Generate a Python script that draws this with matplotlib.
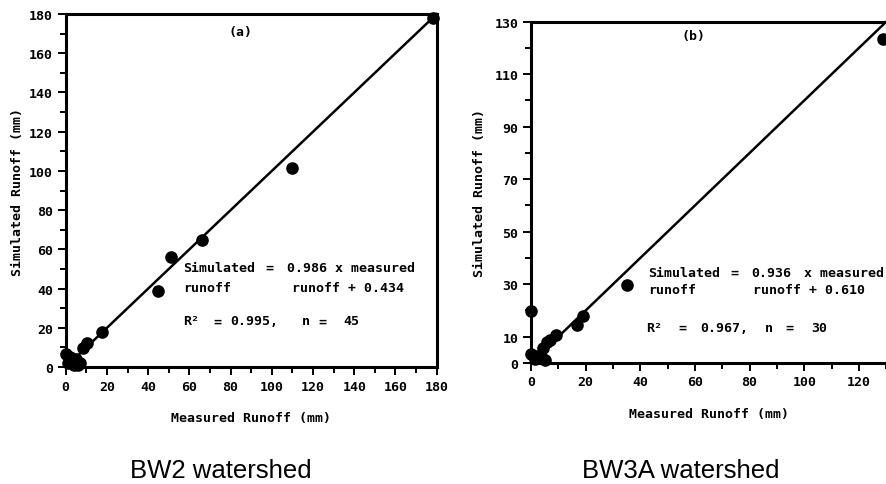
import matplotlib
matplotlib.use("Agg")
import matplotlib.pyplot as plt
import numpy as np

# ---- data ----
a_measured = [178, 110, 66, 51, 45, 17.5, 10.5, 8.5, 0, 3, 5, 7, 4, 6, 2, 1]
a_simulated = [178, 101.5, 65, 56, 39, 18, 12, 9.5, 6.5, 3, 4, 2, 1, 1, 5, 2]
b_measured = [128.8, 35, 19, 16.7, 9, 7, 6, 4.5, 0, 0, 1.5, 5, 4, 2]
b_simulated = [123.5, 29.8, 17.8, 14.5, 10.7, 8.9, 8, 5.7, 19.7, 3.4, 1.5, 1, 2, 2.5]
a_line = [0, 180]
b_line = [0, 130]
a_xticks = list(range(0, 181, 20))
a_yticks = list(range(0, 181, 20))
b_xticks = list(range(0, 121, 20))
b_yticks = [0, 10, 30, 50, 70, 90, 110, 130]

MONO = ["DejaVu Sans Mono"]
fig = plt.figure(figsize=(8.86, 4.85), dpi=100)

def style(ax, xmaj, xmin, ymaj, ymin, xlim, ylim):
    ax.set_xlim(*xlim)
    ax.set_ylim(*ylim)
    ax.set_xticks(xmaj)
    ax.set_xticks(xmin, minor=True)
    ax.set_yticks(ymaj)
    ax.set_yticks(ymin, minor=True)
    ax.tick_params(which="major", direction="out", length=6, width=1.4, pad=3,
                   labelsize=9.5)
    ax.tick_params(which="minor", direction="out", length=4, width=1.4)
    for lab in ax.get_xticklabels() + ax.get_yticklabels():
        lab.set_family(MONO)
        lab.set_fontweight("bold")
    for s in ax.spines.values():
        s.set_linewidth(2.2)

# ---- panel (a) ----
ax1 = fig.add_axes([0.0742, 0.2412, 0.4187, 0.7278])
ax1.plot(a_line, a_line, color="black", lw=1.8, clip_on=False)
ax1.scatter(a_measured, a_simulated, s=65, color="black", zorder=3, clip_on=False)
style(ax1, a_xticks, list(range(10, 180, 20)), a_yticks, list(range(10, 180, 20)),
      (0, 180), (0, 180))
ax1.set_xlabel("Measured Runoff (mm)", family=MONO, fontweight="bold", fontsize=9.5, labelpad=13)
ax1.set_ylabel("Simulated Runoff (mm)", family=MONO, fontweight="bold", fontsize=9.5, labelpad=4)
tk = dict(family=MONO, fontweight="bold", fontsize=9.5, va="center")
ax1.text(85, 171, "(a)", ha="center", **tk)
ax1.text(57, 51, "Simulated", ha="left", **tk)
ax1.text(99, 51, "=", ha="center", **tk)
ax1.text(107.4, 51, "0.986 x measured", ha="left", **tk)
ax1.text(57, 40.6, "runoff", ha="left", **tk)
ax1.text(109.8, 40.6, "runoff + 0.434", ha="left", **tk)
ax1.text(57, 23.6, "R²", ha="left", **tk)
ax1.text(73.5, 23.6, "=", ha="center", **tk)
ax1.text(79.7, 23.6, "0.995,", ha="left", **tk)
ax1.text(114.5, 23.6, "n", ha="left", **tk)
ax1.text(124.5, 23.6, "=", ha="center", **tk)
ax1.text(134.7, 23.6, "45", ha="left", **tk)

# ---- panel (b) ----
ax2 = fig.add_axes([0.5993, 0.2495, 0.4010, 0.7037])
ax2.plot(b_line, b_line, color="black", lw=1.8, clip_on=False)
ax2.scatter(b_measured, b_simulated, s=65, color="black", zorder=3, clip_on=False)
style(ax2, b_xticks, list(range(10, 131, 20)), b_yticks, [20, 40, 60, 80, 100, 120],
      (0, 130), (0, 130))
ax2.spines["right"].set_visible(False)
ax2.set_xlabel("Measured Runoff (mm)", family=MONO, fontweight="bold", fontsize=9.5, labelpad=13)
ax2.set_ylabel("Simulated Runoff (mm)", family=MONO, fontweight="bold", fontsize=9.5, labelpad=6)
ax2.text(59.3, 124.7, "(b)", ha="center", **tk)
ax2.text(42.9, 34.6, "Simulated", ha="left", **tk)
ax2.text(74.3, 34.6, "=", ha="center", **tk)
ax2.text(80.7, 34.6, "0.936", ha="left", **tk)
ax2.text(99.9, 34.6, "x measured", ha="left", **tk)
ax2.text(42.9, 28.1, "runoff", ha="left", **tk)
ax2.text(81.3, 28.1, "runoff + 0.610", ha="left", **tk)
ax2.text(42.3, 13.6, "R²", ha="left", **tk)
ax2.text(55.5, 13.6, "=", ha="center", **tk)
ax2.text(61.8, 13.6, "0.967,", ha="left", **tk)
ax2.text(85.6, 13.6, "n", ha="left", **tk)
ax2.text(94.5, 13.6, "=", ha="center", **tk)
ax2.text(102.7, 13.6, "30", ha="left", **tk)

# ---- captions ----
fig.text(221 / 886, 1 - 471 / 485, "BW2 watershed", ha="center", va="center",
         family=["Liberation Sans"], fontsize=18.5)
fig.text(681 / 886, 1 - 471 / 485, "BW3A watershed", ha="center", va="center",
         family=["Liberation Sans"], fontsize=18.5)

fig.savefig("out.png", dpi=100)
